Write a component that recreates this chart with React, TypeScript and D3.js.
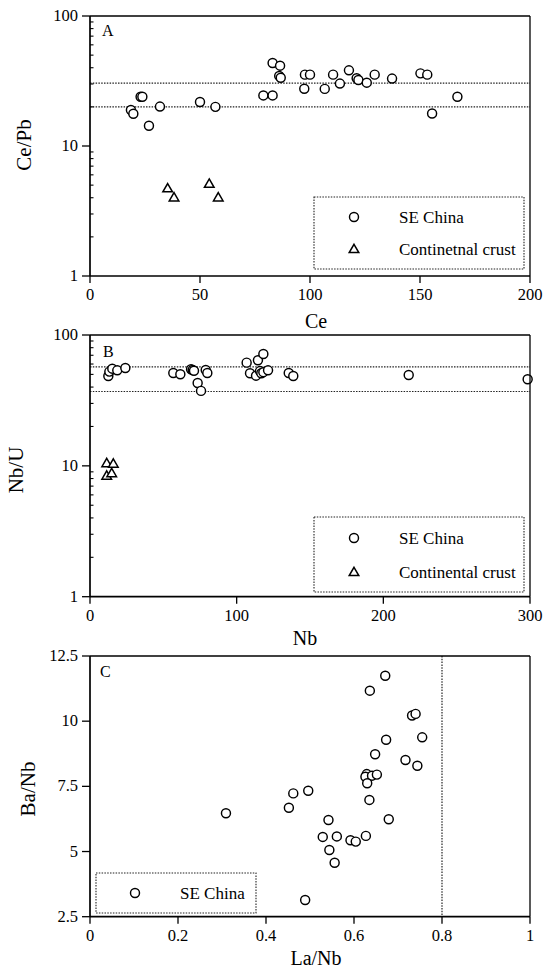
import React from "react";
import * as d3 from "d3";

// Panel A: Ce vs Ce/Pb
const ceA_SE = [18.6, 19.7, 23, 23.8, 26.8, 31.8, 50, 57, 78.8, 83, 83, 86.4, 86, 86.7, 97.7, 100, 97.4, 106.7, 110.5, 113.6, 117.7, 121.2, 122, 125.8, 129.4, 137.3, 150.2, 153.3, 155.5, 167];
const cePbA_SE = [18.9, 17.7, 23.9, 23.9, 14.3, 20.1, 21.8, 20, 24.5, 24.5, 43.5, 41.5, 34.6, 33.5, 35.4, 35.4, 27.6, 27.5, 35.4, 30.2, 38.2, 33.2, 32.2, 30.7, 35.4, 33, 36.2, 35.4, 17.8, 23.9];
const ceA_CC = [35.3, 38.2, 54.2, 58.3];
const cePbA_CC = [4.73, 4.03, 5.13, 4.03];
const refLinesA = [20, 30.5];
const xTicksA = [0, 50, 100, 150, 200];
const logTicks = [1, 10, 100];

// Panel B: Nb vs Nb/U
const nbB_SE = [12.5, 13.2, 15.2, 18.6, 24.1, 56.8, 61.6, 68.9, 70, 70.9, 73.4, 75.7, 78.9, 80, 106.8, 109.1, 113.2, 114.5, 118.2, 115.9, 116.8, 118.2, 121.4, 135.5, 138.6, 217.3, 298.4];
const nbUB_SE = [48.6, 52.5, 55.3, 53.7, 56, 51.3, 50.1, 54.7, 54, 53.3, 43, 37.4, 54, 51.3, 61.5, 51, 48.9, 64.1, 71.6, 53, 51, 52, 53.7, 51.3, 48.6, 49.5, 45.9];
const nbB_CC = [11.4, 15.9, 11.4, 14.8];
const nbUB_CC = [10.5, 10.4, 8.43, 8.8];
const refLinesB = [37, 57];
const xTicksB = [0, 100, 200, 300];

// Panel C: La/Nb vs Ba/Nb
const laNbC = [0.309, 0.671, 0.636, 0.732, 0.740, 0.755, 0.673, 0.648, 0.717, 0.744, 0.629, 0.626, 0.641, 0.652, 0.630, 0.635, 0.462, 0.496, 0.452, 0.542, 0.679, 0.529, 0.561, 0.592, 0.604, 0.627, 0.544, 0.556, 0.489];
const baNbC = [6.47, 11.74, 11.17, 10.22, 10.28, 9.38, 9.29, 8.73, 8.51, 8.29, 7.97, 7.87, 7.91, 7.95, 7.62, 6.98, 7.23, 7.33, 6.68, 6.21, 6.24, 5.56, 5.58, 5.43, 5.38, 5.6, 5.06, 4.57, 3.14];
const refLineC = 0.8;
const xTicksC = [0, 0.2, 0.4, 0.6, 0.8, 1];
const yTicksC = [2.5, 5, 7.5, 10, 12.5];

const FONT = "Liberation Serif, Times New Roman, serif";
const L = 90, R = 530;
const triPath = d3.symbol(d3.symbolTriangle, 40)() as string;

function Circle({ x, y }: { x: number; y: number }) {
  return <circle cx={x} cy={y} r={4.5} fill="white" stroke="black" strokeWidth={1.45} />;
}
function Tri({ x, y }: { x: number; y: number }) {
  return <path d={triPath} transform={`translate(${x},${y + 0.8})`} fill="white" stroke="black" strokeWidth={1.5} />;
}

function Frame({ top, bottom }: { top: number; bottom: number }) {
  return (
    <g>
      <line x1={L} x2={R} y1={top} y2={top} stroke="black" strokeWidth={1.3} />
      <line x1={R} x2={R} y1={top} y2={bottom} stroke="black" strokeWidth={1.3} />
      <line x1={L} x2={L} y1={top} y2={bottom} stroke="black" strokeWidth={1.7} />
      <line x1={L} x2={R} y1={bottom} y2={bottom} stroke="black" strokeWidth={1.7} />
    </g>
  );
}

function XAxis({ scale, ticks, y, fmt }: { scale: any; ticks: number[]; y: number; fmt: (v: number) => string }) {
  return (
    <g>
      {ticks.map((t) => (
        <g key={t}>
          <line x1={scale(t)} x2={scale(t)} y1={y} y2={y + 7} stroke="black" strokeWidth={1.3} />
          <text x={scale(t)} y={y + 24} textAnchor="middle" fontSize={16.5} fontFamily={FONT}>{fmt(t)}</text>
        </g>
      ))}
    </g>
  );
}

function LogYAxis({ scale }: { scale: any }) {
  const minors: number[] = [];
  [1, 10].forEach((d) => { for (let k = 2; k <= 9; k++) minors.push(d * k); });
  return (
    <g>
      {logTicks.map((t) => (
        <g key={t}>
          <line x1={L - 8} x2={L} y1={scale(t)} y2={scale(t)} stroke="black" strokeWidth={1.3} />
          <text x={L - 12} y={scale(t) + 5} textAnchor="end" fontSize={16.5} fontFamily={FONT}>{t}</text>
        </g>
      ))}
      {minors.map((t) => (
        <line key={t} x1={L} x2={L + 3.5} y1={scale(t)} y2={scale(t)} stroke="black" strokeWidth={1.1} />
      ))}
    </g>
  );
}

function Legend({ x0, y0, x1, y1, items }: { x0: number; y0: number; x1: number; y1: number; items: { label: string; tri: boolean; y: number; mx: number; tx: number }[] }) {
  return (
    <g>
      <rect x={x0} y={y0} width={x1 - x0} height={y1 - y0} fill="white" stroke="#222" strokeWidth={1.1} strokeDasharray="1.5,1.3" />
      {items.map((it) => (
        <g key={it.label}>
          {it.tri ? <Tri x={it.mx} y={it.y} /> : <Circle x={it.mx} y={it.y} />}
          <text x={it.tx} y={it.y + 5.5} fontSize={17} fontFamily={FONT}>{it.label}</text>
        </g>
      ))}
    </g>
  );
}

export default function App() {
  const xA = d3.scaleLinear().domain([0, 200]).range([L, R]);
  const yA = d3.scaleLog().domain([1, 100]).range([276, 16]);
  const xB = d3.scaleLinear().domain([0, 300]).range([L, R]);
  const yB = d3.scaleLog().domain([1, 100]).range([596.7, 335]);
  const xC = d3.scaleLinear().domain([0, 1]).range([L, R]);
  const yC = d3.scaleLinear().domain([2.5, 12.5]).range([916.7, 656]);

  const dotted = { stroke: "#222", strokeWidth: 1.2, strokeDasharray: "1.5,1.3" };

  return (
    <svg width={543} height={973} style={{ position: "absolute", left: 0, top: 0, background: "white" }} fontFamily={FONT}>
      <rect x={0} y={0} width={543} height={973} fill="white" />

      {/* Panel A */}
      {refLinesA.map((v) => (
        <line key={v} x1={L} x2={R} y1={yA(v)} y2={yA(v)} {...dotted} />
      ))}
      <Legend x0={314} y0={197} x1={524} y1={269} items={[
        { label: "SE China", tri: false, y: 217, mx: 354, tx: 399 },
        { label: "Continetnal crust", tri: true, y: 249, mx: 354, tx: 399 },
      ]} />
      {ceA_SE.map((c, i) => <Circle key={i} x={xA(c)} y={yA(cePbA_SE[i])} />)}
      {ceA_CC.map((c, i) => <Tri key={i} x={xA(c)} y={yA(cePbA_CC[i])} />)}
      <Frame top={16} bottom={276} />
      <LogYAxis scale={yA} />
      <XAxis scale={xA} ticks={xTicksA} y={276} fmt={(v) => String(v)} />
      <text x={102} y={36} fontSize={16} fontFamily={FONT}>A</text>
      <text x={316} y={328} textAnchor="middle" fontSize={20} fontFamily={FONT}>Ce</text>
      <text transform="translate(31,145) rotate(-90)" textAnchor="middle" fontSize={21} fontFamily={FONT}>Ce/Pb</text>

      {/* Panel B */}
      {refLinesB.map((v) => (
        <line key={v} x1={L} x2={R} y1={yB(v)} y2={yB(v)} {...dotted} />
      ))}
      <Legend x0={314} y0={517} x1={524} y1={592} items={[
        { label: "SE China", tri: false, y: 538, mx: 354, tx: 399 },
        { label: "Continental crust", tri: true, y: 572, mx: 354, tx: 399 },
      ]} />
      {nbB_SE.map((c, i) => <Circle key={i} x={xB(c)} y={yB(nbUB_SE[i])} />)}
      {nbB_CC.map((c, i) => <Tri key={i} x={xB(c)} y={yB(nbUB_CC[i])} />)}
      <Frame top={335} bottom={596.7} />
      <LogYAxis scale={yB} />
      <XAxis scale={xB} ticks={xTicksB} y={596.7} fmt={(v) => String(v)} />
      <text x={103} y={357} fontSize={16} fontFamily={FONT}>B</text>
      <text x={305} y={645} textAnchor="middle" fontSize={20} fontFamily={FONT}>Nb</text>
      <text transform="translate(23,470) rotate(-90)" textAnchor="middle" fontSize={21} fontFamily={FONT}>Nb/U</text>

      {/* Panel C */}
      <line x1={xC(refLineC)} x2={xC(refLineC)} y1={656} y2={916.7} {...dotted} />
      <Legend x0={96} y0={873} x1={256} y1={913} items={[
        { label: "SE China", tri: false, y: 893, mx: 135, tx: 180 },
      ]} />
      {laNbC.map((c, i) => <Circle key={i} x={xC(c)} y={yC(baNbC[i])} />)}
      <Frame top={656} bottom={916.7} />
      {yTicksC.map((t) => (
        <g key={t}>
          <line x1={L - 8} x2={L} y1={yC(t)} y2={yC(t)} stroke="black" strokeWidth={1.3} />
          <text x={L - 12} y={yC(t) + 5} textAnchor="end" fontSize={16.5} fontFamily={FONT}>{String(t)}</text>
        </g>
      ))}
      <XAxis scale={xC} ticks={xTicksC} y={916.7} fmt={(v) => String(v)} />
      <text x={100} y={677} fontSize={16} fontFamily={FONT}>C</text>
      <text x={316} y={965} textAnchor="middle" fontSize={20} fontFamily={FONT}>La/Nb</text>
      <text transform="translate(35,789) rotate(-90)" textAnchor="middle" fontSize={21} fontFamily={FONT}>Ba/Nb</text>
    </svg>
  );
}
